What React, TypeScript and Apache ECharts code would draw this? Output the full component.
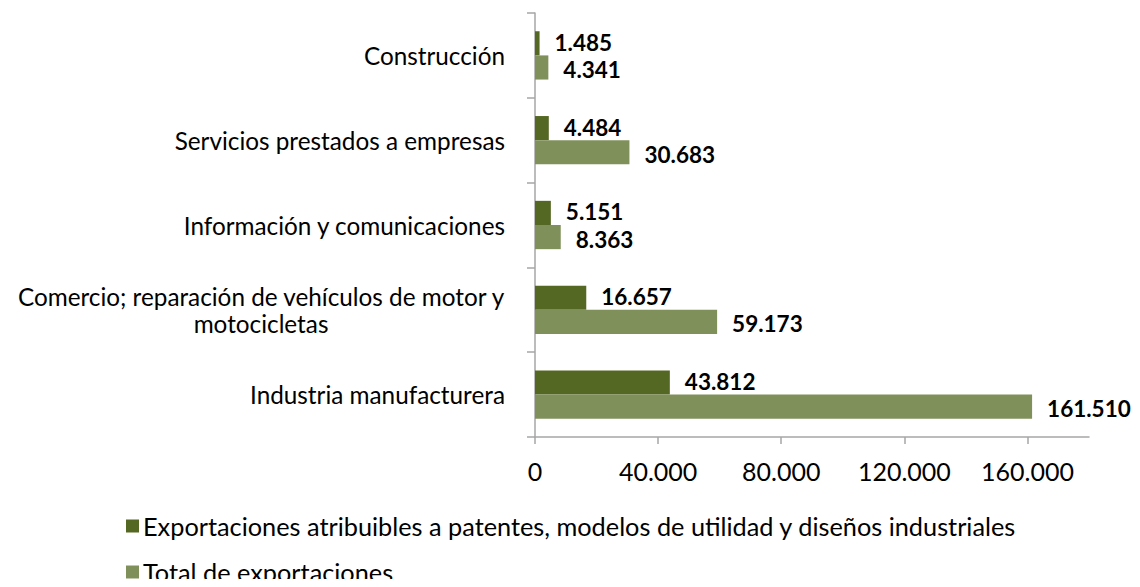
import React, { useEffect, useRef } from "react";
import * as echarts from "echarts";

const categories = [
  "Construcción",
  "Servicios prestados a empresas",
  "Información y comunicaciones",
  "Comercio; reparación de vehículos de motor y\nmotocicletas",
  "Industria manufacturera",
];
const patentExports = [1485, 4484, 5151, 16657, 43812];
const totalExports = [4341, 30683, 8363, 59173, 161510];
const seriesNames = [
  "Exportaciones atribuibles a patentes, modelos de utilidad y diseños industriales",
  "Total de exportaciones",
];
const tickValues = [0, 40000, 80000, 120000, 160000];

const fmt = (v: number) => String(v).replace(/\B(?=(\d{3})+(?!\d))/g, ".");
const FONT = "Lato";
const CAT_SIZE = 24.3;

export default function App() {
  const ref = useRef<HTMLDivElement>(null);
  useEffect(() => {
    if (!ref.current) return;
    const chart = echarts.init(ref.current, undefined, { renderer: "svg" });
    const ctx = document.createElement("canvas").getContext("2d")!;
    ctx.font = `${CAT_SIZE}px ${FONT}`;
    const yData = categories.map((c) => {
      const lines = c.split("\n");
      if (lines.length < 2) return c;
      const w = Math.max(...lines.map((l) => ctx.measureText(l).width));
      return { value: c, textStyle: { align: "center", padding: [0, w, 0, 0] } };
    });
    const labelCfg = (dy: number) => ({
      show: true,
      position: "right",
      distance: 15,
      offset: [0, dy],
      fontFamily: FONT,
      fontWeight: "bold",
      fontSize: 22.5,
      lineHeight: 19,
      color: "#000",
      formatter: (p: any) => fmt(p.value),
    });
    const legendBase = {
      orient: "horizontal",
      left: 121,
      itemWidth: 13,
      itemHeight: 13,
      itemGap: 10,
      icon: "rect",
      textStyle: { fontFamily: FONT, fontSize: 25.3, lineHeight: 26, color: "#000", padding: [0, 0, 0, -1] },
    };
    chart.setOption({
      animation: false,
      textStyle: { fontFamily: FONT },
      grid: { left: 535, right: 51, top: 13, bottom: 150, containLabel: false },
      xAxis: {
        type: "value",
        min: 0,
        max: 180000,
        interval: 40000,
        splitLine: { show: false },
        axisLine: { show: true, lineStyle: { color: "#a6a6a6", width: 1.5 } },
        axisTick: { show: true, length: 7, lineStyle: { color: "#a6a6a6", width: 1.5 }, customValues: tickValues },
        axisLabel: {
          customValues: tickValues,
          margin: 21,
          fontFamily: FONT,
          fontSize: 25,
          color: "#000",
          formatter: (v: number) => fmt(v),
        },
      },
      yAxis: {
        type: "category",
        inverse: true,
        data: yData,
        axisLine: { show: true, lineStyle: { color: "#a6a6a6", width: 1.5 } },
        axisTick: { show: true, length: 8, lineStyle: { color: "#a6a6a6", width: 1.5 } },
        axisLabel: {
          margin: 30,
          fontFamily: FONT,
          fontSize: CAT_SIZE,
          color: "#000",
          lineHeight: 27,
        },
      },
      legend: [
        { ...legendBase, top: 508, data: [seriesNames[0]] },
        { ...legendBase, top: 554, data: [seriesNames[1]] },
      ],
      series: [
        {
          name: seriesNames[0],
          type: "bar",
          data: patentExports,
          barGap: "0%",
          barCategoryGap: "43%",
          itemStyle: { color: "#556823" },
          label: labelCfg(-1),
        },
        {
          name: seriesNames[1],
          type: "bar",
          data: totalExports,
          barGap: "0%",
          barCategoryGap: "43%",
          itemStyle: { color: "#80905a" },
          label: labelCfg(2),
        },
      ],
    });
    return () => chart.dispose();
  }, []);
  return <div ref={ref} style={{ width: 1140, height: 587, margin: -8 }} />;
}
